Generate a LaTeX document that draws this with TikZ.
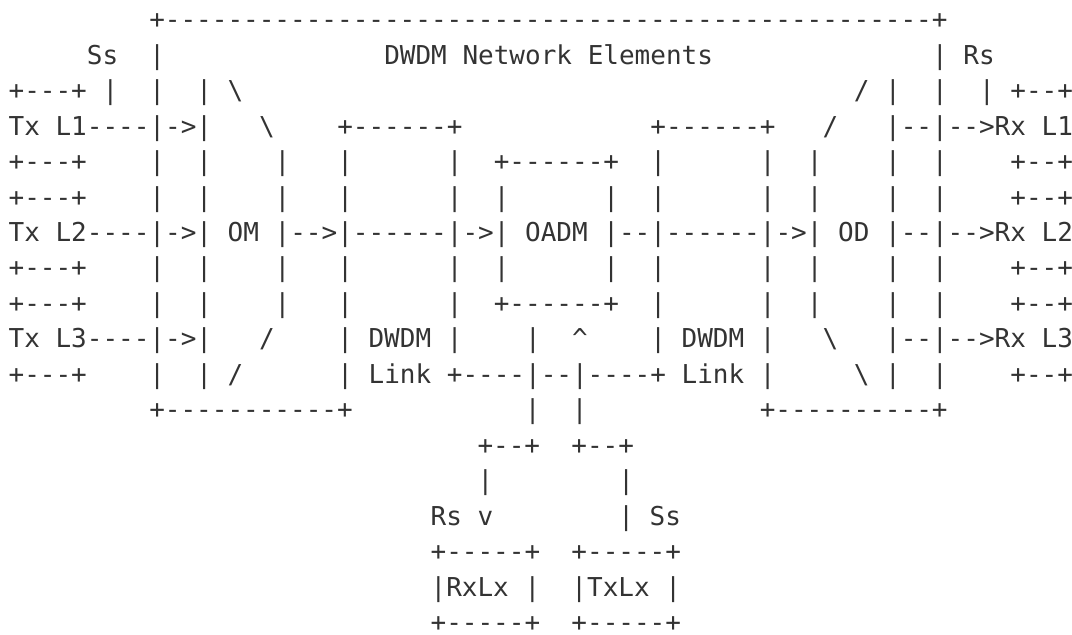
\documentclass[tikz,border=0pt]{standalone}
\usepackage{fontspec}
\setmonofont{DejaVu Sans Mono}
\definecolor{asciigray}{HTML}{333333}
\newcommand{\bksl}{\textbackslash{}}
\newcommand{\crt}{\textasciicircum{}}

\begin{document}
\begin{tikzpicture}[%
asciirow/.style={anchor=base west, inner sep=0pt, text=asciigray,
  font=\ttfamily\fontsize{13}{15.6}\selectfont}
]
\useasboundingbox (0,0) rectangle (536pt,-317.5pt);

% top of the network elements frame
\node[asciirow] (r1) at (74.44pt,-14.4pt) {+-------------------------------------------------+};
\node[asciirow] (r2) at (4.1pt,-32.13pt) {~~~~~Ss~~|~~~~~~~~~~~~~~DWDM~Network~Elements~~~~~~~~~~~~~~|~Rs};
\node[asciirow] (r3) at (4.1pt,-49.85pt) {+---+~|~~|~~|~\bksl{}~~~~~~~~~~~~~~~~~~~~~~~~~~~~~~~~~~~~~~~/~|~~|~~|~+--+};

% the three channels L1, L2, L3
\node[asciirow] (r4) at (4.1pt,-67.58pt) {Tx~L1----|->|~~~\bksl{}~~~~+------+~~~~~~~~~~~~+------+~~~/~~~|--|-->Rx~L1};
\node[asciirow] (r5) at (4.1pt,-85.3pt) {+---+~~~~|~~|~~~~|~~~|~~~~~~|~~+------+~~|~~~~~~|~~|~~~~|~~|~~~~+--+};
\node[asciirow] (r6) at (4.1pt,-103.03pt) {+---+~~~~|~~|~~~~|~~~|~~~~~~|~~|~~~~~~|~~|~~~~~~|~~|~~~~|~~|~~~~+--+};
\node[asciirow] (r7) at (4.1pt,-120.76pt) {Tx~L2----|->|~OM~|-->|------|->|~OADM~|--|------|->|~OD~|--|-->Rx~L2};
\node[asciirow] (r8) at (4.1pt,-138.48pt) {+---+~~~~|~~|~~~~|~~~|~~~~~~|~~|~~~~~~|~~|~~~~~~|~~|~~~~|~~|~~~~+--+};
\node[asciirow] (r9) at (4.1pt,-156.21pt) {+---+~~~~|~~|~~~~|~~~|~~~~~~|~~+------+~~|~~~~~~|~~|~~~~|~~|~~~~+--+};
\node[asciirow] (r10) at (4.1pt,-173.93pt) {Tx~L3----|->|~~~/~~~~|~DWDM~|~~~~|~~\crt~~~~|~DWDM~|~~~\bksl~~~|--|-->Rx~L3};
\node[asciirow] (r11) at (4.1pt,-191.66pt) {+---+~~~~|~~|~/~~~~~~|~Link~+----|--|----+~Link~|~~~~~\bksl~|~~|~~~~+--+};
\node[asciirow] (r12) at (74.44pt,-209.39pt) {+-----------+~~~~~~~~~~~|~~|~~~~~~~~~~~+----------+};

% add/drop branch
\node[asciirow] (r13) at (238.55pt,-227.11pt) {+--+~~+--+};
\node[asciirow] (r14) at (238.55pt,-244.84pt) {|~~~~~~~~|};
\node[asciirow] (r15) at (215.1pt,-262.56pt) {Rs~v~~~~~~~~|~Ss};
\node[asciirow] (r16) at (215.1pt,-280.29pt) {+-----+~~+-----+};
\node[asciirow] (r17) at (215.1pt,-298.02pt) {|RxLx~|~~|TxLx~|};
\node[asciirow] (r18) at (215.1pt,-315.74pt) {+-----+~~+-----+};
\end{tikzpicture}
\end{document}
